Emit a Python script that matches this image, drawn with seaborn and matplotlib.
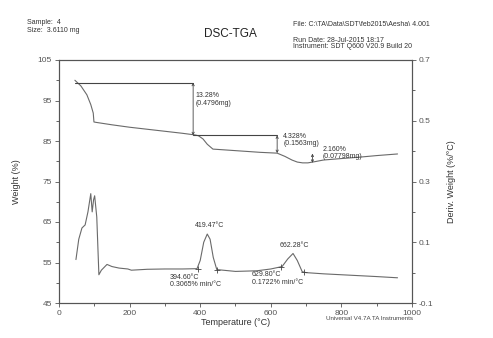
import matplotlib.pyplot as plt
import matplotlib.ticker as mticker
import numpy as np
import pandas as pd
import seaborn as sns

# TGA weight curve (Weight %, left axis)
tga_temp = [45, 62, 79, 90, 97, 99, 105, 150, 200, 250, 300, 350, 385, 395, 408, 420, 436,
            470, 520, 570, 618, 640, 660, 675, 690, 705, 725, 749, 790, 850, 900, 959]
tga_weight = [100.0, 98.6, 96.4, 94.0, 91.9, 89.7, 89.6, 89.0, 88.4, 87.9, 87.4, 86.9, 86.5,
              86.3, 85.5, 84.2, 83.0, 82.8, 82.5, 82.2, 82.0, 81.2, 80.3, 79.8, 79.6, 79.6,
              79.9, 80.3, 80.6, 81.0, 81.4, 81.8]

# derivative weight curve (%/°C, right axis)
dtg_temp = [48, 56, 65, 74, 82, 90, 94, 98, 101, 107, 113, 120, 136, 150, 170, 195, 205,
            250, 300, 350, 391, 400, 410, 420, 428, 437, 447, 500, 560, 600, 632, 648, 663,
            675, 689, 700, 750, 800, 850, 900, 959]
dtg_value = [0.043, 0.11, 0.147, 0.157, 0.20, 0.26, 0.20, 0.24, 0.253, 0.183, -0.007, 0.008,
             0.027, 0.02, 0.015, 0.012, 0.008, 0.011, 0.012, 0.012, 0.013, 0.04, 0.10, 0.127,
             0.11, 0.05, 0.01, 0.004, 0.006, 0.012, 0.02, 0.045, 0.063, 0.04, 0.003, 0.0,
             -0.004, -0.007, -0.01, -0.013, -0.017]

step_labels = ["13.28%\n(0.4796mg)", "4.328%\n(0.1563mg)", "2.160%\n(0.07798mg)"]
peak_labels = ["419.47°C", "662.28°C"]
onset_labels = ["394.60°C\n0.3065% min/°C", "629.80°C\n0.1722% min/°C"]

sns.set_style("ticks")
plt.rcParams['font.family'] = ['Liberation Sans', 'DejaVu Sans']

fig = plt.figure(figsize=(4.93, 3.38), dpi=100)
ax = fig.add_axes([59 / 493, 1 - 303 / 338, 353 / 493, 243 / 338])
ax2 = ax.twinx()

line_col = '#6a6a6a'
tga = pd.DataFrame({'T': tga_temp, 'w': tga_weight})
dtg = pd.DataFrame({'T': dtg_temp, 'd': dtg_value})
sns.lineplot(data=tga, x='T', y='w', ax=ax, color=line_col, lw=0.8, sort=False)
sns.lineplot(data=dtg, x='T', y='d', ax=ax2, color=line_col, lw=0.8, sort=False)

ax.set_xlim(0, 1000)
ax.set_ylim(45, 105)
ax2.set_ylim(-0.1, 0.7)

ax.xaxis.set_major_locator(mticker.MultipleLocator(200))
ax.xaxis.set_minor_locator(mticker.MultipleLocator(100))
ax.set_yticks(np.arange(45, 106, 10))
ax.yaxis.set_major_formatter(mticker.FuncFormatter(lambda v, p: '%d' % round(v)))
ax.yaxis.set_minor_locator(mticker.FixedLocator(np.arange(50, 105, 10)))
ax2.set_yticks([-0.1, 0.1, 0.3, 0.5, 0.7])
ax2.set_yticklabels(['-0.1', '0.1', '0.3', '0.5', '0.7'])
ax2.yaxis.set_minor_locator(mticker.FixedLocator([0.0, 0.2, 0.4, 0.6]))

for a in (ax, ax2):
    a.tick_params(labelsize=6, colors='#555555', length=3, width=0.6, pad=2)
    a.tick_params(which='minor', length=2, width=0.5)
    for s in a.spines.values():
        s.set_color('#555555')
        s.set_linewidth(0.8)
    a.spines['top'].set_visible(True)
    a.spines['right'].set_visible(True)

ax.set_xlabel('Temperature (°C)', fontsize=6.5, color='#333333', labelpad=1)
ax.set_ylabel('Weight (%)', fontsize=6.5, color='#333333', labelpad=12)
ax2.set_ylabel('Deriv. Weight (%/°C)', fontsize=6.5, color='#333333', labelpad=10)

# step-change annotations on the weight curve
ann_col = '#444444'
arrow = dict(arrowstyle='<->', color=ann_col, lw=0.6, mutation_scale=4, shrinkA=0, shrinkB=0)
ax.plot([45, 380], [99.4, 99.4], color=ann_col, lw=0.8)
ax.plot([380, 618], [86.4, 86.4], color=ann_col, lw=0.8)
ax.annotate('', xy=(380, 86.4), xytext=(380, 99.4), arrowprops=arrow)
ax.annotate('', xy=(618, 82.0), xytext=(618, 86.4), arrowprops=arrow)
ax.annotate('', xy=(718, 79.6), xytext=(718, 81.9), arrowprops=arrow)
step_pos = [(387, 97.0), (635, 87.0), (748, 83.8)]
for (x, y), lab in zip(step_pos, step_labels):
    ax.text(x, y, lab, fontsize=5, color='#333333', va='top', ha='left', linespacing=1.1)

# peak / onset annotations on the derivative curve
ax.text(385, 63.3, peak_labels[0], fontsize=5, color='#333333', va='bottom')
ax.text(626, 58.3, peak_labels[1], fontsize=5, color='#333333', va='bottom')
ax.text(314, 52.2, onset_labels[0], fontsize=5, color='#333333', va='top', linespacing=1.1)
ax.text(547, 52.8, onset_labels[1], fontsize=5, color='#333333', va='top', linespacing=1.1)
ax2.plot([394.6, 448, 629.8, 695], [0.013, 0.01, 0.019, 0.002], ls='none',
         marker='+', ms=4, mew=0.6, color=ann_col)

# header text
hdr = dict(fontsize=5, color='#333333', va='center')
fig.text(27 / 493, 1 - 22 / 338, 'Sample:  4', **hdr)
fig.text(27 / 493, 1 - 30 / 338, 'Size:  3.6110 mg', **hdr)
fig.text(230 / 493, 1 - 34 / 338, 'DSC-TGA', fontsize=8.5, color='#222222', ha='center', va='center')
fig.text(293 / 493, 1 - 24 / 338, 'File: C:\\TA\\Data\\SDT\\feb2015\\Aesha\\ 4.001', **hdr)
fig.text(293 / 493, 1 - 40 / 338, 'Run Date: 28-Jul-2015 18:17', **hdr)
fig.text(293 / 493, 1 - 47 / 338, 'Instrument: SDT Q600 V20.9 Build 20', **hdr)
fig.text(370 / 493, 1 - 318 / 338, 'Universal V4.7A TA Instruments', fontsize=4.5,
         color='#444444', ha='center', va='center')

fig.savefig('out.png', dpi=100)
